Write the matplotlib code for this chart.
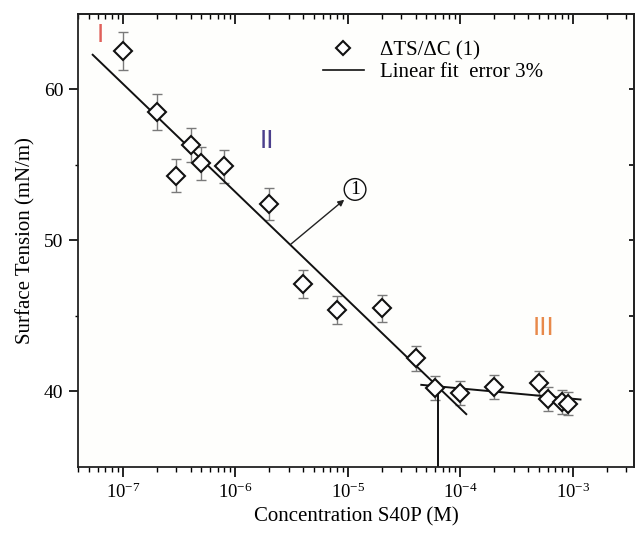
import matplotlib
matplotlib.use("Agg")
import matplotlib.pyplot as plt
from matplotlib.lines import Line2D
import numpy as np

# ---- data ----
conc = [1e-7, 2e-7, 3e-7, 4e-7, 5e-7, 8e-7, 2e-6, 4e-6, 8e-6, 2e-5, 4e-5,
        6e-5, 1e-4, 2e-4, 5e-4, 6e-4, 8e-4, 9e-4]
tension = [62.55, 58.5, 54.3, 56.3, 55.1, 54.9, 52.4, 47.1, 45.4, 45.5, 42.2,
           40.25, 39.9, 40.3, 40.55, 39.5, 39.3, 39.2]
err = [1.25, 1.17, 1.09, 1.13, 1.10, 1.10, 1.05, 0.94, 0.91, 0.91, 0.84,
       0.80, 0.80, 0.81, 0.81, 0.79, 0.79, 0.78]

fit1_x = [5.4e-8, 1.13e-4]
fit1_y = [62.3, 38.5]
fit2_x = [4.5e-5, 1.17e-3]
fit2_y = [40.44, 39.47]
cmc_x = [6.3e-5, 6.3e-5]
cmc_y = [35.0, 40.34]

arrow_start = (3.11e-6, 49.75)
arrow_end = (9.3e-6, 52.7)
circle_pos = (1.16e-5, 53.38)

regions = ["I", "II", "III"]
region_x = [6.3e-8, 1.9e-6, 5.5e-4]
region_y = [63.6, 56.6, 44.2]
region_colors = ["#e0605a", "#4b3f8c", "#e8894a"]

xticks = [1e-7, 1e-6, 1e-5, 1e-4, 1e-3]
xtick_labels = ["$\\mathregular{10^{-7}}$", "$\\mathregular{10^{-6}}$",
                "$\\mathregular{10^{-5}}$", "$\\mathregular{10^{-4}}$",
                "$\\mathregular{10^{-3}}$"]
yticks = [40, 50, 60]
yminor = [45, 55]

plt.rcParams['font.family'] = ['Liberation Serif', 'DejaVu Serif']
plt.rcParams['mathtext.fontset'] = 'custom'
plt.rcParams['mathtext.rm'] = 'Liberation Serif'

fig = plt.figure(figsize=(6.39, 5.38), dpi=100)
fig.patch.set_facecolor('white')
ax = fig.add_axes([0.1221, 0.1320, 0.8701, 0.8420])
ax.set_facecolor('#fefefc')

ax.set_xscale('log')
ax.set_xlim(4e-8, 3.5e-3)
ax.set_ylim(35, 65)

ax.errorbar(conc, tension, yerr=err, fmt='none', ecolor='#7a7a7a',
            elinewidth=1.0, capsize=3.5, capthick=1.0, zorder=2)
ax.plot(conc, tension, linestyle='none', marker='D', markersize=9,
        markerfacecolor='white', markeredgecolor='#111111',
        markeredgewidth=1.5, zorder=3)

ax.plot(fit1_x, fit1_y, color='#111111', lw=1.4, zorder=2.5)
ax.plot(fit2_x, fit2_y, color='#111111', lw=1.4, zorder=2.5)
ax.plot(cmc_x, cmc_y, color='#111111', lw=1.4, zorder=2.5)

ax.annotate('', xy=arrow_end, xytext=arrow_start,
            arrowprops=dict(arrowstyle='-|>', color='#222222', lw=1.0,
                            mutation_scale=9, shrinkA=0, shrinkB=0))
ax.text(circle_pos[0], circle_pos[1], '1', fontsize=14, ha='center',
        va='center', bbox=dict(boxstyle='circle,pad=0.12', fc='white',
                               ec='#111111', lw=1.0))

for lab, xx, yy, cc in zip(regions, region_x, region_y, region_colors):
    ax.text(xx, yy, lab, fontsize=19, color=cc, ha='center', va='center',
            family=['Liberation Sans'])

# ticks
ax.set_xticks(xticks)
ax.set_xticklabels(xtick_labels)
ax.set_yticks(yticks)
ax.set_yticks(yminor, minor=True)
ax.tick_params(axis='x', which='major', direction='out', length=7, width=1.2,
               labelsize=13.5, pad=4, top=False)
ax.tick_params(axis='x', which='minor', direction='out', length=3.6, width=1.0,
               top=False)
ax.tick_params(axis='y', which='major', direction='out', length=6.5, width=1.2,
               labelsize=14, pad=4, right=False)
ax.tick_params(axis='y', which='minor', direction='out', length=2.5, width=1.0,
               right=False)

secx = ax.secondary_xaxis('top')
secx.set_xticks(xticks)
secx.tick_params(axis='x', which='major', direction='in', length=7, width=1.2,
                 labeltop=False)
secx.tick_params(axis='x', which='minor', direction='in', length=3.6, width=1.0)
secy = ax.secondary_yaxis('right')
secy.set_yticks([40, 45, 50, 55, 60])
secy.tick_params(axis='y', which='major', direction='in', length=3.6, width=1.2,
                 labelright=False)
secy.tick_params(axis='y', which='minor', length=0)

for sp in list(ax.spines.values()) + list(secx.spines.values()) + list(secy.spines.values()):
    sp.set_linewidth(1.3)
    sp.set_color('#222222')

ax.set_xlabel('Concentration S40P (M)', fontsize=15, labelpad=4)
ax.set_ylabel('Surface Tension (mN/m)', fontsize=15, labelpad=6)

handles = [Line2D([], [], linestyle='none', marker='D', markersize=9,
                  markerfacecolor='white', markeredgecolor='#111111',
                  markeredgewidth=1.5),
           Line2D([], [], color='#111111', lw=1.2)]
ax.legend(handles, ['ΔTS/ΔC (1)', 'Linear fit  error 3%'],
          loc='upper left', bbox_to_anchor=(0.44, 0.94), frameon=False,
          fontsize=15, markerscale=0.75, handlelength=2.0,
          handletextpad=0.75, labelspacing=0.1, borderpad=0,
          borderaxespad=0)

fig.savefig('out.png', dpi=100)
